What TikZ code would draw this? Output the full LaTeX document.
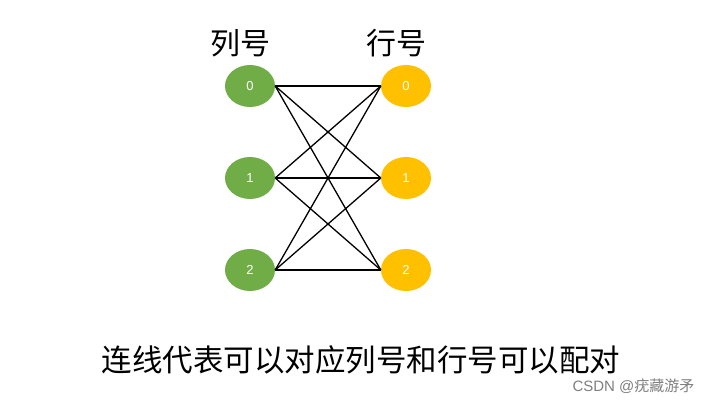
\documentclass[tikz,border=0pt]{standalone}
\usepackage{fontspec}
\setmainfont{Noto Sans CJK SC}
\newfontfamily\lat{Liberation Sans}
\usetikzlibrary{shapes.geometric}
\definecolor{gr}{HTML}{70AD47}
\definecolor{og}{HTML}{FFC000}
\begin{document}
\begin{tikzpicture}[x=1pt,y=-1pt,
  dot/.style={ellipse,minimum width=50pt,minimum height=42pt,inner sep=0pt,text=white,font=\lat\fontsize{13}{13}\selectfont},
  lnk/.style={black,line width=1.3pt}]
\useasboundingbox (0,0) rectangle (703,406);
\fill[white] (0,0) rectangle (703,406);
\foreach \i/\y in {0/86,1/178,2/270}{
  \node[dot,fill=gr] (g\i) at (250,\y) {\i};
  \node[dot,fill=og] (o\i) at (406,\y) {\i};
}
\foreach \i in {0,1,2}{\foreach \j in {0,1,2}{\draw[lnk] (g\i.east) -- (o\j.west);}}
\node[font=\fontsize{30}{30}\selectfont] (t1) at (240,43) {列号};
\node[font=\fontsize{30}{30}\selectfont] (t2) at (396,43) {行号};
\node[font=\fontsize{30.5}{30.5}\selectfont] (cap) at (361,360) {连线代表可以对应列号和行号可以配对};
\node[font=\fontsize{15}{15}\selectfont,text=gray,anchor=east] (wm) at (698,386) {\lat CSDN @\rmfamily 疣藏游矛};
\end{tikzpicture}
\end{document}
